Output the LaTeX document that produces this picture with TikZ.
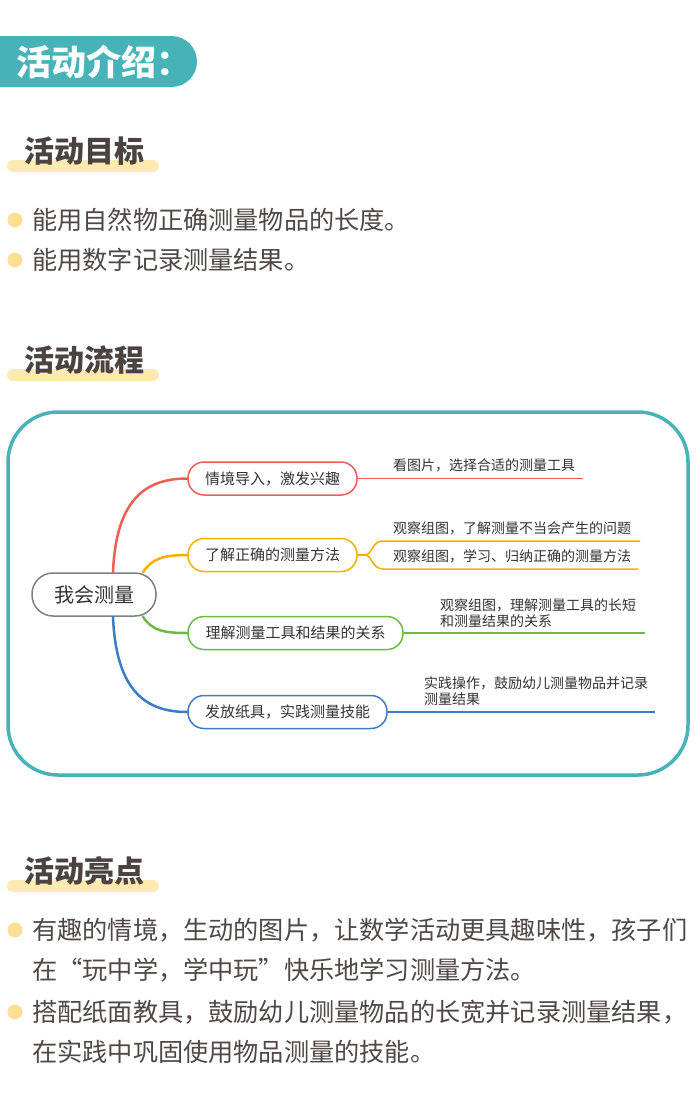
\documentclass[tikz,border=0pt]{standalone}
\usepackage{fontspec}
\setmainfont{Noto Sans CJK SC}
\usetikzlibrary{calc}
\definecolor{tealc}{HTML}{47B3B9}
\definecolor{barY}{HTML}{FDE9B2}
\definecolor{bulY}{HTML}{FBDF95}
\definecolor{titleC}{HTML}{4A4341}
\definecolor{bodyC}{HTML}{4F4846}
\definecolor{mmText}{HTML}{333333}
\definecolor{mmGray}{HTML}{7A8088}
\definecolor{mmRed}{HTML}{EC5F55}
\definecolor{mmOrange}{HTML}{F4B000}
\definecolor{mmGreen}{HTML}{6ABB45}
\definecolor{mmBlue}{HTML}{3B7BCB}
\tikzset{
  sectitle/.style={anchor=west, text=titleC, inner sep=0pt, font=\fontsize{30}{30}\selectfont\bfseries},
  secbar/.style={fill=barY, rounded corners=6pt},
  bodytext/.style={anchor=west, text=bodyC, inner sep=0pt, font=\fontsize{25.2}{25.2}\selectfont},
  bullet/.style={fill=bulY},
  mmnode/.style={draw=#1, line width=1.5pt, rounded corners=16pt, text=mmText, inner sep=0pt, minimum height=33pt, font=\fontsize{15}{15}\selectfont, fill=white},
  leaftext/.style={anchor=west, text=mmText, inner sep=0pt, font=\fontsize{14}{16}\selectfont, align=left},
  branch/.style={draw=#1, line width=2.5pt, line cap=round},
  leafline/.style={draw=#1, line width=1.5pt},
}
\begin{document}
\begin{tikzpicture}[x=1pt,y=-1pt]
\useasboundingbox (0,0) rectangle (700,1101);
\fill[white] (0,0) rectangle (700,1101);

% header
\fill[tealc, rounded corners=25.5pt] (-40,36) rectangle (197,87);
\node[anchor=west, text=white, inner sep=0pt, font=\fontsize{35}{35}\selectfont\bfseries] (hdr) at (16,62) {活动介绍：};

% section 1
\fill[secbar] (7,160) rectangle (159,172);
\node[sectitle] (s1) at (24,151) {活动目标};
\fill[bullet] (15,220) circle (7.5);
\node[bodytext] (g1) at (32,220) {能用自然物正确测量物品的长度。};
\fill[bullet] (15,260) circle (7.5);
\node[bodytext] (g2) at (32,260) {能用数字记录测量结果。};

% section 2
\fill[secbar] (7,369) rectangle (159,381);
\node[sectitle] (s2) at (24,360) {活动流程};

% mindmap frame
\draw[tealc, line width=3.5pt, rounded corners=50pt] (8,412) rectangle (688,775);

% central
\node[draw=mmGray, line width=1.5pt, rounded corners=21pt, minimum width=124pt, minimum height=43pt, text=mmText, font=\fontsize{20}{20}\selectfont, inner sep=0pt] (c) at (94,594.5) {我会测量};

% branch nodes
\node[mmnode=mmRed, minimum width=169pt] (n1) at (272.5,478.5) {情境导入，激发兴趣};
\node[mmnode=mmOrange, minimum width=169pt] (n2) at (272.5,555) {了解正确的测量方法};
\node[mmnode=mmGreen, minimum width=215pt] (n3) at (295.5,633) {理解测量工具和结果的关系};
\node[mmnode=mmBlue, minimum width=199pt] (n4) at (287.5,712) {发放纸具，实践测量技能};

% branches
\draw[branch=mmRed] ([xshift=19pt]c.north) .. controls (116,500) and (145,478.5) .. (n1.west);
\draw[branch=mmOrange] ([xshift=49pt]c.north) .. controls (152,558) and (165,555) .. (n2.west);
\draw[branch=mmGreen] ([xshift=49pt]c.south) .. controls (152,631) and (165,633) .. (n3.west);
\draw[branch=mmBlue] ([xshift=19pt]c.south) .. controls (116,690) and (145,712) .. (n4.west);

% leaves
\coordinate (l1e) at (583,478.5);
\draw[leafline=mmRed] (n1.east) -- (l1e);
\node[leaftext] (t1) at (393,465) {看图片，选择合适的测量工具};

\coordinate (l2f) at (365,555);
\coordinate (l2a) at (383,541);
\coordinate (l2ae) at (640,541);
\coordinate (l2b) at (383,569);
\coordinate (l2be) at (638,569);
\draw[leafline=mmOrange] (n2.east) -- (l2f);
\draw[leafline=mmOrange] (l2f) .. controls (372,555) and (372,541) .. (l2a) -- (l2ae);
\draw[leafline=mmOrange] (l2f) .. controls (372,555) and (372,569) .. (l2b) -- (l2be);
\node[leaftext] (t2a) at (393,528) {观察组图，了解测量不当会产生的问题};
\node[leaftext] (t2b) at (393,556) {观察组图，学习、归纳正确的测量方法};

\coordinate (l3e) at (645,633);
\draw[leafline=mmGreen] (n3.east) -- (l3e);
\node[leaftext] (t3) at (440,613) {观察组图，理解测量工具的长短\\和测量结果的关系};

\coordinate (l4e) at (655,712);
\draw[leafline=mmBlue] (n4.east) -- (l4e);
\node[leaftext] (t4) at (424,691) {实践操作，鼓励幼儿测量物品并记录\\测量结果};

% section 3
\fill[secbar] (7,880) rectangle (159,892);
\node[sectitle] (s3) at (24,871) {活动亮点};
\fill[bullet] (15,930) circle (7.5);
\node[bodytext] (h1) at (32,930) {有趣的情境，生动的图片，让数学活动更具趣味性，孩子们};
\node[bodytext] (h1b) at (32,970) {在“玩中学，学中玩”快乐地学习测量方法。};
\fill[bullet] (15,1012) circle (7.5);
\node[bodytext] (h2) at (32,1012) {搭配纸面教具，鼓励幼儿测量物品的长宽并记录测量结果，};
\node[bodytext] (h2b) at (32,1052) {在实践中巩固使用物品测量的技能。};
\end{tikzpicture}
\end{document}
